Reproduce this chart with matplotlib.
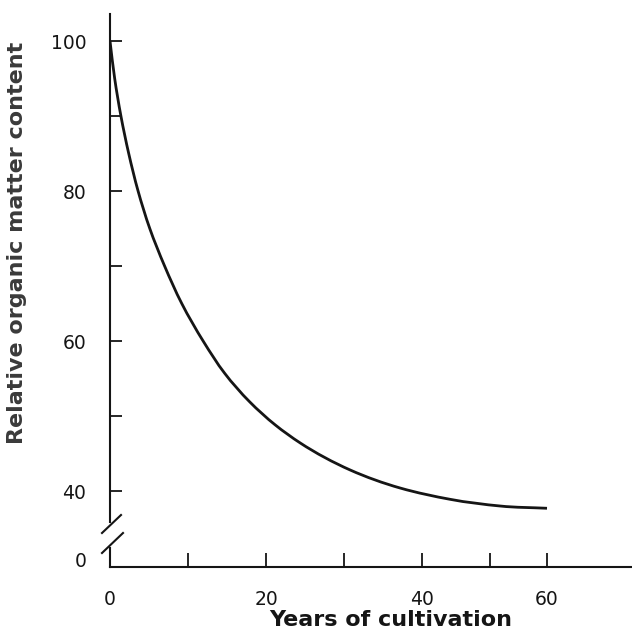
import numpy as np
import matplotlib
matplotlib.use('Agg')
import matplotlib.pyplot as plt
from matplotlib.lines import Line2D
from matplotlib.path import Path
from matplotlib.patches import PathPatch

# values
years = [0, 0.6, 1.4, 2.4, 3.6, 5.1, 7.0, 9.2, 12.0, 14.7, 17.9, 21.2, 24.4, 30.8, 37.2, 44.1, 51.8, 60]
organic_matter = [100, 95, 90, 85, 80, 75, 70, 65, 59.9, 55.7, 51.9, 48.8, 46.4, 42.8, 40.4, 38.9, 38.0, 37.7]

y_major = [40, 60, 80, 100]
y_minor = [50, 70, 90]
x_major = [0, 20, 40, 60]
x_minor = [10, 30, 50]

# the hand-drawn x axis is not evenly spaced past 40 years
x_knots = [-100, 0, 40, 50, 60, 200]
x_pos = [-780, 0, 312, 380, 437, 1235]

def fwd(x):
    return np.interp(x, x_knots, x_pos)

def inv(p):
    return np.interp(p, x_pos, x_knots)

def smooth_path(xs, ys):
    # cubic Hermite through the points (chord-length spacing), as Bezier segments
    pts = np.column_stack([xs, ys]).astype(float)
    h = np.hypot(*np.diff(pts, axis=0).T)
    d = np.diff(pts, axis=0) / h[:, None]
    m = np.empty_like(pts)
    m[0], m[-1] = d[0], d[-1]
    m[1:-1] = (d[:-1] * h[1:, None] + d[1:] * h[:-1, None]) / (h[:-1] + h[1:])[:, None]
    verts = [pts[0]]
    codes = [Path.MOVETO]
    for i in range(len(pts) - 1):
        verts += [pts[i] + m[i] * h[i] / 3, pts[i + 1] - m[i + 1] * h[i] / 3, pts[i + 1]]
        codes += [Path.CURVE4] * 3
    return Path(verts, codes)

W, H = 632, 631
ink = '#151515'
plt.rcParams['font.family'] = ['DejaVu Sans']

fig = plt.figure(figsize=(W / 100, H / 100), dpi=100)

def px_box(left, top, right, bottom):
    return [left / W, 1 - bottom / H, (right - left) / W, (bottom - top) / H]

ax = fig.add_axes(px_box(110, 14, 632, 522))
ax_low = fig.add_axes(px_box(110, 548, 632, 567))

xmax = float(inv(522))
for a in (ax, ax_low):
    a.set_xscale('function', functions=(fwd, inv))
    a.set_xlim(0, xmax)
    a.set_facecolor('none')
    for s in ('top', 'right'):
        a.spines[s].set_visible(False)
    for s in ('left', 'bottom'):
        a.spines[s].set_linewidth(1.5)
        a.spines[s].set_color(ink)

ax.add_patch(PathPatch(smooth_path(years, organic_matter), facecolor='none',
                       edgecolor=ink, lw=2.0, capstyle='butt'))

# upper part
ax.spines['bottom'].set_visible(False)
ax.set_ylim(35.87, 103.6)
ax.set_yticks(y_major)
ax.set_yticks(y_minor, minor=True)
ax.tick_params(axis='y', which='both', direction='in', length=8.6, width=1.3,
               pad=17, labelsize=13.5, colors=ink)
ax.set_xticks([])
ax.set_xticks([], minor=True)

# lower part, below the break
ax_low.set_ylim(-1, 1.5)
ax_low.set_yticks([0])
ax_low.tick_params(axis='y', direction='in', length=0, pad=16.5, labelsize=13.5, colors=ink)
ax_low.set_xticks(x_major)
ax_low.set_xticklabels([str(v) for v in x_major])
ax_low.set_xticks(x_minor, minor=True)
ax_low.tick_params(axis='x', which='both', direction='in', length=10, width=1.3,
                   pad=16.5, labelsize=13.5, colors=ink)

# break marks on the y axis
for (x0, y0, x1, y1) in [(102, 533, 121, 515), (102, 553, 123, 533)]:
    fig.add_artist(Line2D([x0 / W, x1 / W], [1 - y0 / H, 1 - y1 / H],
                          transform=fig.transFigure, lw=1.5, color=ink))

fig.text(391 / W, 1 - 620 / H, 'Years of cultivation', ha='center', va='center',
         fontsize=16, fontweight='bold', color=ink)
fig.text(17 / W, 1 - 243 / H, 'Relative organic matter content', ha='center', va='center',
         rotation=90, fontsize=16, fontweight='bold', color='#3a3a3a')

fig.savefig('out.png', dpi=100)
